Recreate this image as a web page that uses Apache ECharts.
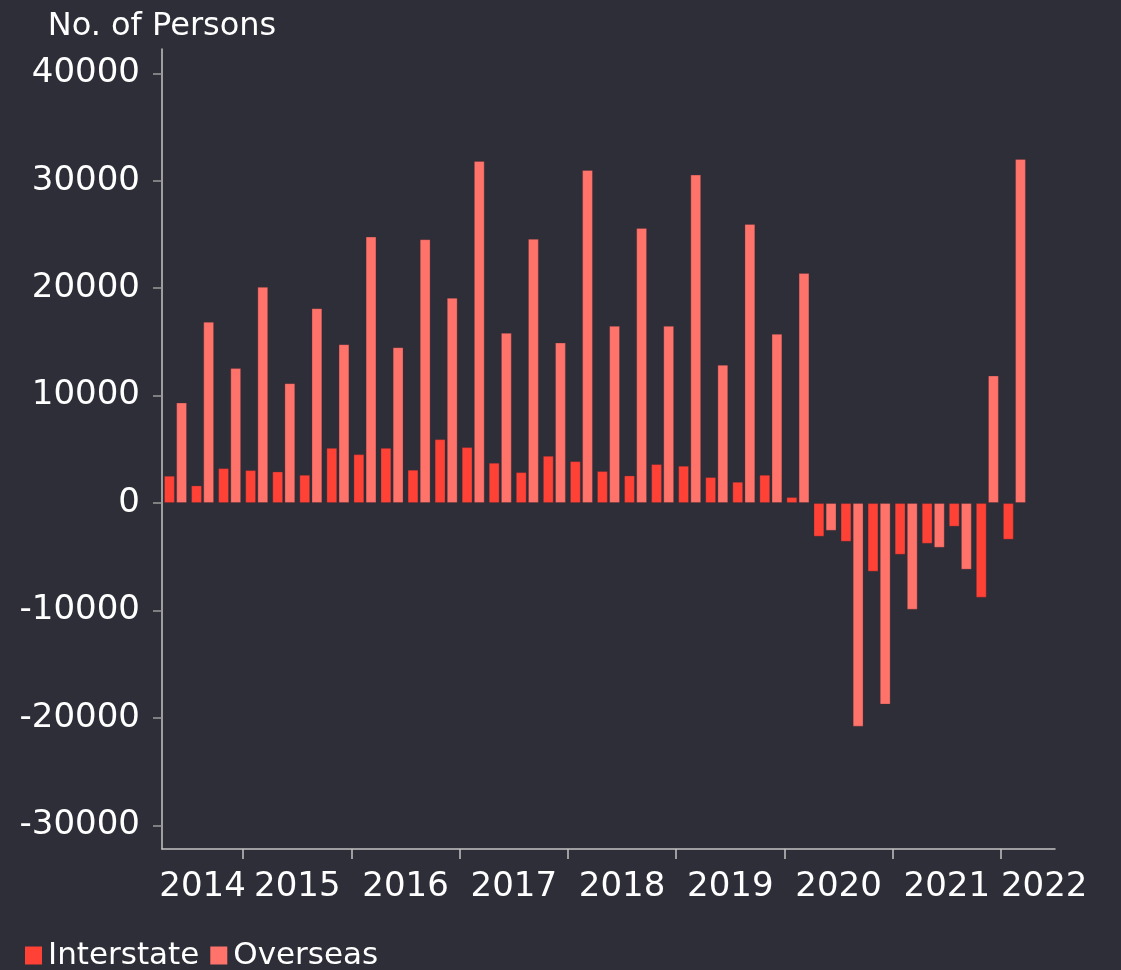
<!DOCTYPE html>
<html>
<head>
<meta charset="utf-8">
<style>
html,body{margin:0;padding:0;background:#2e2e38;}
#chart{width:1121px;height:970px;}
</style>
<script src="https://cdn.jsdelivr.net/npm/echarts@6/dist/echarts.min.js"></script>
</head>
<body>
<div id="chart"></div>
<script>
const quarters = ['2014 Q2','2014 Q3','2014 Q4',
  '2015 Q1','2015 Q2','2015 Q3','2015 Q4',
  '2016 Q1','2016 Q2','2016 Q3','2016 Q4',
  '2017 Q1','2017 Q2','2017 Q3','2017 Q4',
  '2018 Q1','2018 Q2','2018 Q3','2018 Q4',
  '2019 Q1','2019 Q2','2019 Q3','2019 Q4',
  '2020 Q1','2020 Q2','2020 Q3','2020 Q4',
  '2021 Q1','2021 Q2','2021 Q3','2021 Q4',
  '2022 Q1','2022 Q2'];
const interstate = [2540,1640,3250,3070,2940,2630,5140,4550,5140,3100,5950,5210,3750,2880,4400,3900,2980,2570,3630,3470,2420,1980,2630,560,-3130,-3600,-6390,-4810,-3790,-2200,-8810,-3410,null];
const overseas = [9360,16870,12560,20120,11160,18140,14790,24800,14510,24560,19100,31840,15840,24590,14940,31000,16490,25610,16490,30570,12870,25980,15750,21420,-2580,-20810,-18760,-9930,-4160,-6200,11870,32030,null];
const yearLabels = ['2014','2015','2016','2017','2018','2019','2020','2021','2022'];
const yTicks = [-30000,-20000,-10000,0,10000,20000,30000,40000];

const FONT = 'DejaVu Sans';
// year boundaries (index of first quarter of each year after the first)
const yearStarts = [];
quarters.forEach((q, i) => { if (i > 0 && q.slice(0,4) !== quarters[i-1].slice(0,4)) yearStarts.push(i); });
const labelPos = [1.5, 5, 9, 13, 17, 21, 25, 29, 32.6];

const chart = echarts.init(document.getElementById('chart'));
chart.setOption({
  backgroundColor: '#2e2e38',
  textStyle: { fontFamily: FONT },
  animation: false,
  grid: { left: 162, right: 66, top: 49, bottom: 121, containLabel: false },
  legend: {
    left: 25, top: 940, padding: 0,
    itemWidth: 17, itemHeight: 18, itemGap: 11,
    icon: 'rect',
    itemStyle: { borderWidth: 0 },
    textStyle: { color: '#ffffff', fontSize: 31, fontFamily: FONT, padding: [0,0,0,1] },
    data: ['Interstate', 'Overseas']
  },
  xAxis: [{
    type: 'category',
    data: quarters,
    boundaryGap: true,
    axisLine: { onZero: false, lineStyle: { color: '#c4c4c4', width: 1.5 } },
    axisTick: { show: false },
    axisLabel: { show: false },
    splitLine: { show: false }
  }, {
    type: 'value',
    min: 0, max: quarters.length,
    position: 'bottom',
    axisLine: { show: false, onZero: false },
    axisTick: { show: true, length: 10, customValues: yearStarts, lineStyle: { color: '#c4c4c4', width: 1.5 } },
    axisLabel: {
      customValues: labelPos,
      color: '#ffffff', fontSize: 34, fontFamily: FONT, margin: 21,
      formatter: function (v) {
        let best = 0;
        labelPos.forEach((p, i) => { if (Math.abs(p - v) < Math.abs(labelPos[best] - v)) best = i; });
        return yearLabels[best];
      }
    },
    splitLine: { show: false }
  }],
  yAxis: {
    type: 'value',
    min: -32200, max: 42260,
    name: 'No. of Persons',
    nameLocation: 'end',
    nameGap: 6,
    nameTextStyle: { color: '#ffffff', fontSize: 32, fontFamily: FONT, align: 'center' },
    axisLine: { show: true, lineStyle: { color: '#c4c4c4', width: 1.5 } },
    axisTick: { show: true, length: 9, customValues: yTicks, lineStyle: { color: '#9a9a9a', width: 1.5 } },
    axisLabel: {
      customValues: yTicks, color: '#ffffff', fontSize: 34, fontFamily: FONT, margin: 22,
      formatter: function (v) { return String(v); }
    },
    splitLine: { show: false }
  },
  series: [{
    name: 'Interstate',
    type: 'bar',
    xAxisIndex: 0,
    data: interstate,
    barGap: '12%',
    barCategoryGap: '15%',
    itemStyle: { color: '#ff4136', borderColor: 'rgba(80,40,50,0.3)', borderWidth: 1 }
  }, {
    name: 'Overseas',
    type: 'bar',
    xAxisIndex: 0,
    data: overseas,
    barGap: '12%',
    barCategoryGap: '15%',
    itemStyle: { color: '#ff736a', borderColor: 'rgba(80,40,50,0.3)', borderWidth: 1 }
  }]
});
</script>
</body>
</html>
